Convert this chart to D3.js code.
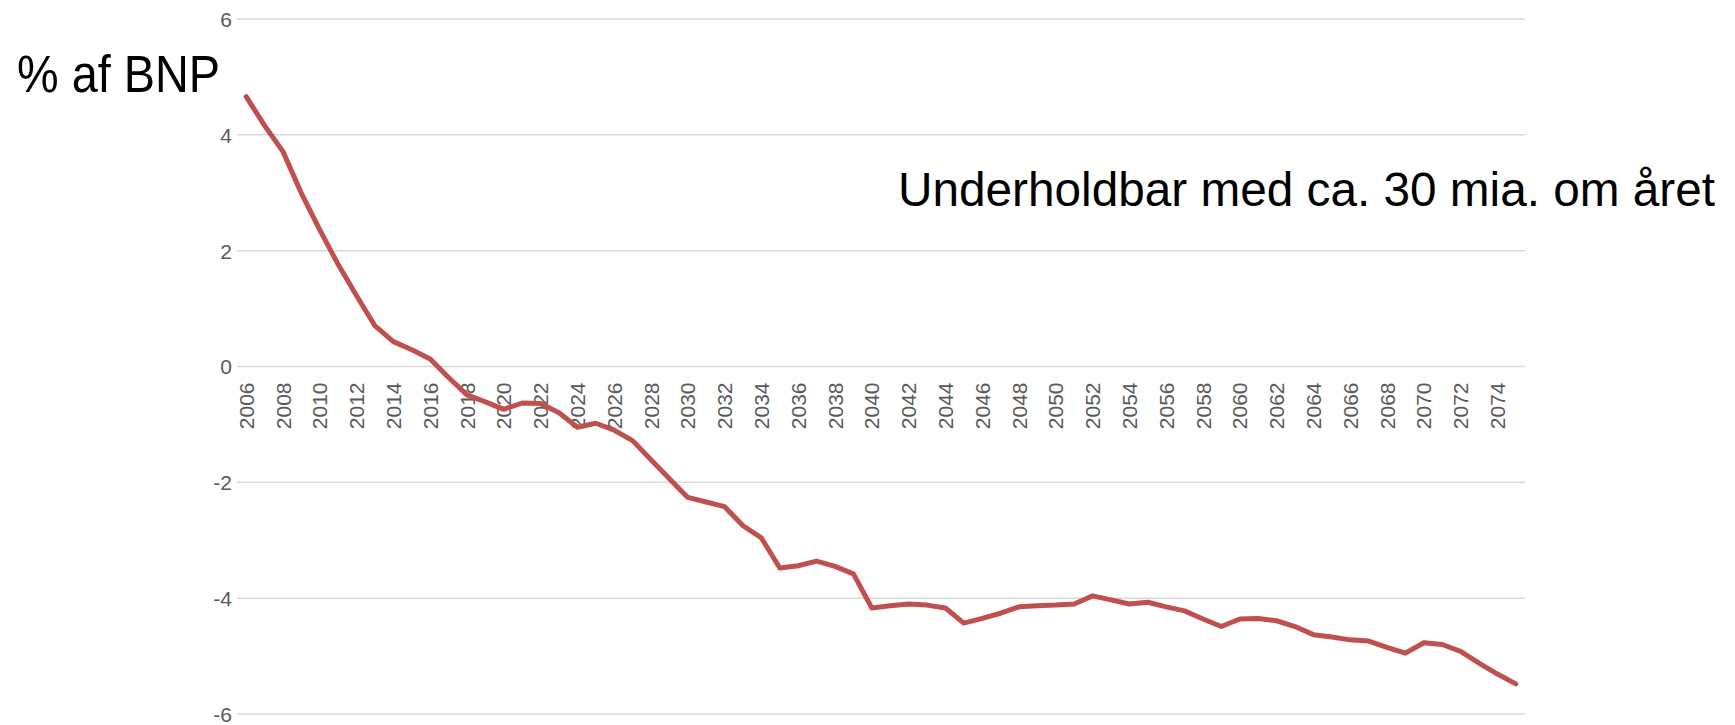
<!DOCTYPE html>
<html>
<head>
<meta charset="utf-8">
<script src="https://cdn.jsdelivr.net/npm/d3@7"></script>
<style>
  html, body { margin: 0; padding: 0; background: #fff; }
  svg { display: block; }
</style>
</head>
<body>
<svg id="chart" width="1735" height="725"></svg>
<script>
const years = d3.range(2006, 2076).map(String);
const values = [
  4.66, 4.16, 3.71, 2.99, 2.36, 1.76, 1.22, 0.70, 0.43, 0.29,
  0.13, -0.19, -0.49, -0.61, -0.74, -0.63, -0.64, -0.80, -1.05, -0.98,
  -1.10, -1.28, -1.61, -1.94, -2.26, -2.34, -2.42, -2.75, -2.96, -3.48,
  -3.44, -3.36, -3.45, -3.58, -4.17, -4.13, -4.10, -4.12, -4.17, -4.43,
  -4.35, -4.26, -4.15, -4.13, -4.12, -4.10, -3.96, -4.03, -4.10, -4.07,
  -4.15, -4.22, -4.36, -4.49, -4.36, -4.35, -4.39, -4.49, -4.63, -4.67,
  -4.72, -4.74, -4.85, -4.95, -4.77, -4.80, -4.92, -5.12, -5.31, -5.48
];
const yTicks = [-6, -4, -2, 0, 2, 4, 6];
const xTickLabels = years.filter((d, i) => i % 2 === 0);
const axisTitle = "% af BNP";
const annotation = "Underholdbar med ca. 30 mia. om året";

(function () {
  const svg = d3.select("#chart");
  const mLeft = 237, mRight = 1525, mTop = 19, mBottom = 714;

  const x = d3.scaleBand().domain(years).range([mLeft, mRight]).paddingInner(0).paddingOuter(0);
  const y = d3.scaleLinear().domain([-6, 6]).range([mBottom, mTop]);

  const font = "'Liberation Sans', Arial, sans-serif";

  // gridlines
  svg.append("g")
    .selectAll("line")
    .data(yTicks)
    .join("line")
    .attr("x1", mLeft).attr("x2", mRight)
    .attr("y1", d => y(d)).attr("y2", d => y(d))
    .attr("stroke", "#d9d9d9")
    .attr("stroke-width", 1.5);

  // y axis labels
  const yAxis = d3.axisLeft(y).tickValues(yTicks).tickSize(0).tickPadding(0).tickFormat(d => String(d));
  const gy = svg.append("g").attr("transform", `translate(${mLeft - 5},0)`).call(yAxis);
  gy.select(".domain").remove();
  gy.selectAll("text")
    .attr("font-family", font)
    .attr("font-size", 21)
    .attr("fill", "#595959")
    .attr("dy", "0.35em");

  // x axis labels (rotated) at the zero line
  const xAxis = d3.axisBottom(x).tickValues(xTickLabels).tickSize(0).tickPadding(0);
  const gx = svg.append("g").attr("transform", `translate(0,${y(0)})`).call(xAxis);
  gx.select(".domain").remove();
  gx.selectAll("text")
    .attr("font-family", font)
    .attr("font-size", 21)
    .attr("fill", "#595959")
    .attr("text-anchor", "end")
    .attr("transform", "rotate(-90)")
    .attr("x", -16)
    .attr("y", 0)
    .attr("dy", "0.36em");

  // line
  const line = d3.line()
    .x((d, i) => x(years[i]) + x.bandwidth() / 2)
    .y(d => y(d));

  svg.append("path")
    .datum(values)
    .attr("d", line)
    .attr("fill", "none")
    .attr("stroke", "#c0504d")
    .attr("stroke-width", 5)
    .attr("stroke-linejoin", "round")
    .attr("stroke-linecap", "round");

  // axis title
  svg.append("text")
    .attr("x", 17)
    .attr("y", 92)
    .attr("font-family", font)
    .attr("font-size", 51)
    .attr("fill", "#000")
    .attr("textLength", 203)
    .attr("lengthAdjust", "spacingAndGlyphs")
    .text(axisTitle);

  // annotation
  svg.append("text")
    .attr("x", 898)
    .attr("y", 206)
    .attr("font-family", font)
    .attr("font-size", 48)
    .attr("fill", "#000")
    .attr("textLength", 817)
    .attr("lengthAdjust", "spacingAndGlyphs")
    .text(annotation);
})();
</script>
</body>
</html>
